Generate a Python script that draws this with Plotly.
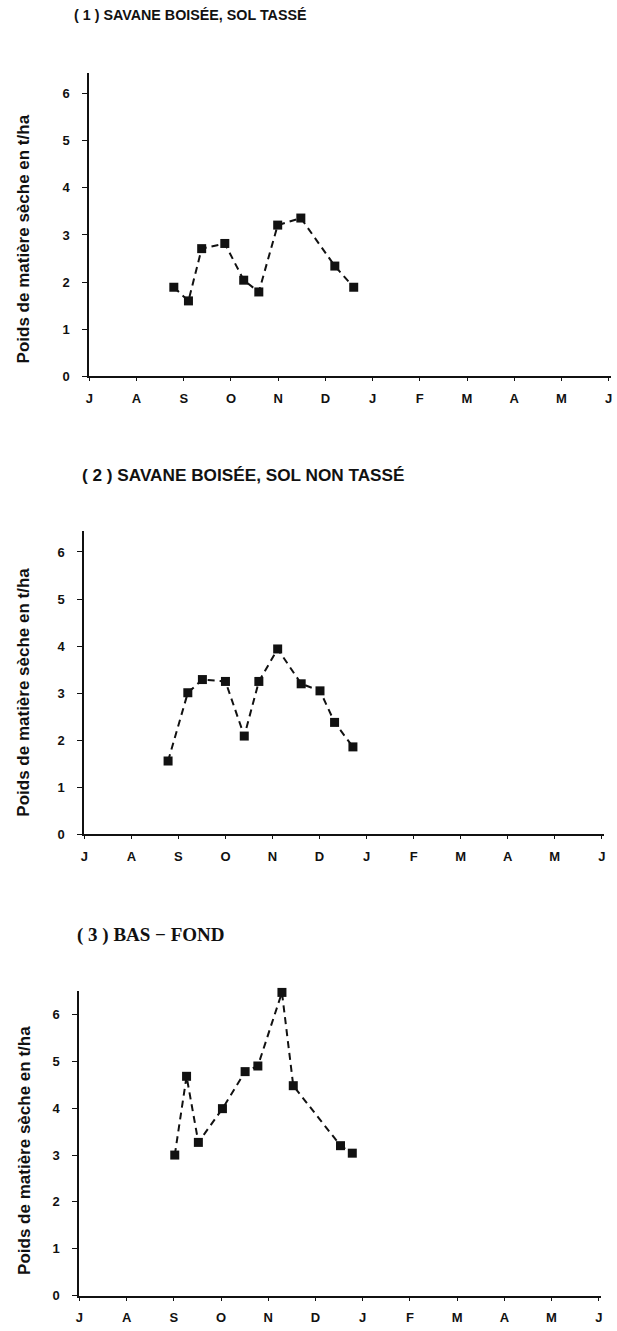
import plotly.graph_objects as go

# ---- data (x = months since beginning of July, J=0 ... J=11) ----
month_labels = ["J", "A", "S", "O", "N", "D", "J", "F", "M", "A", "M", "J"]
month_positions = list(range(12))
weight_ticks = [0, 1, 2, 3, 4, 5, 6]

panel_titles = [
    "( 1 ) SAVANE BOISÉE, SOL TASSÉ",
    "( 2 ) SAVANE BOISÉE, SOL NON TASSÉ",
    "( 3 ) BAS − FOND",
]
y_title = "Poids de matière sèche en t/ha"

p1_month = [1.79, 2.10, 2.38, 2.87, 3.27, 3.59, 3.99, 4.48, 5.20, 5.60]
p1_weight = [1.89, 1.60, 2.71, 2.82, 2.04, 1.79, 3.21, 3.36, 2.34, 1.89]

p2_month = [1.78, 2.20, 2.51, 3.00, 3.40, 3.71, 4.11, 4.61, 5.01, 5.32, 5.71]
p2_weight = [1.56, 3.01, 3.29, 3.25, 2.09, 3.25, 3.94, 3.20, 3.05, 2.38, 1.86]

p3_month = [2.02, 2.27, 2.52, 3.03, 3.51, 3.78, 4.29, 4.53, 5.53, 5.78]
p3_weight = [3.00, 4.68, 3.27, 3.99, 4.78, 4.90, 6.47, 4.48, 3.20, 3.04]

# ---- layout geometry (page pixels) ----
W, H = 617, 1331


def fx(p):
    return p / W


def fy(p):
    return 1 - p / H


panels = [
    dict(x=p1_month, y=p1_weight, xpx=(86, 612), ypx=(73, 378.5), ymax=6.45,
         title_xy=(69, 15), title_font=dict(family="Liberation Sans", size=14.3, color="#111", weight="bold"),
         ytitle_y=240),
    dict(x=p2_month, y=p2_weight, xpx=(81, 605), ypx=(534, 839.5), ymax=6.45,
         title_xy=(77, 478), title_font=dict(family="Liberation Sans", size=17.2, color="#111", weight="bold"),
         ytitle_y=696),
    dict(x=p3_month, y=p3_weight, xpx=(76, 602), ypx=(997, 1303.5), ymax=6.5,
         title_xy=(72, 941), title_font=dict(family="Liberation Serif", size=19, color="#111", weight="bold"),
         ytitle_y=1157),
]

fig = go.Figure()
layout = dict(
    width=W, height=H,
    margin=dict(l=0, r=0, t=0, b=0),
    paper_bgcolor="white", plot_bgcolor="white",
    showlegend=False,
    font=dict(family="Liberation Sans", color="#111"),
)
annotations = []
tickfont = dict(family="Liberation Sans", size=13, color="#111", weight="bold")

for i, p in enumerate(panels, start=1):
    xa = "x" if i == 1 else f"x{i}"
    ya = "y" if i == 1 else f"y{i}"
    fig.add_trace(go.Scatter(
        x=p["x"], y=p["y"], mode="lines+markers",
        line=dict(color="#111", width=2, dash="7px,5px"),
        marker=dict(symbol="square", size=9, color="#111"),
        cliponaxis=False,
        xaxis=xa, yaxis=ya,
    ))
    xkey = "xaxis" if i == 1 else f"xaxis{i}"
    ykey = "yaxis" if i == 1 else f"yaxis{i}"
    layout[xkey] = dict(
        domain=[fx(p["xpx"][0]), fx(p["xpx"][1])],
        range=[0, 11.05],
        tickvals=month_positions, ticktext=month_labels,
        showline=True, linecolor="#111", linewidth=2,
        ticks="outside", ticklen=3, tickcolor="#111", tickwidth=1,
        ticklabelstandoff=6,
        tickfont=tickfont,
        showgrid=False, zeroline=False,
        anchor=ya,
    )
    layout[ykey] = dict(
        domain=[fy(p["ypx"][1]), fy(p["ypx"][0])],
        range=[0, p["ymax"]],
        tickvals=weight_ticks,
        showline=True, linecolor="#111", linewidth=2,
        ticks="outside", ticklen=5, tickcolor="#111", tickwidth=1,
        ticklabelstandoff=10,
        tickfont=tickfont,
        showgrid=False, zeroline=False,
        anchor=xa,
    )
    annotations.append(dict(
        text=panel_titles[i - 1], xref="paper", yref="paper",
        x=fx(p["title_xy"][0]), y=fy(p["title_xy"][1]),
        xanchor="left", yanchor="middle", showarrow=False,
        font=p["title_font"],
    ))
    annotations.append(dict(
        text=y_title, xref="paper", yref="paper",
        x=fx(20), y=fy(p["ytitle_y"]),
        xanchor="center", yanchor="middle", showarrow=False, textangle=-90,
        font=dict(family="Liberation Sans", size=17, color="#111", weight="bold"),
    ))

layout["annotations"] = annotations
fig.update_layout(**layout)
fig.write_html(
    "out.html",
    config={"displayModeBar": False, "staticPlot": True},
    post_script="document.body.style.margin='0';document.body.style.overflow='hidden';",
)
